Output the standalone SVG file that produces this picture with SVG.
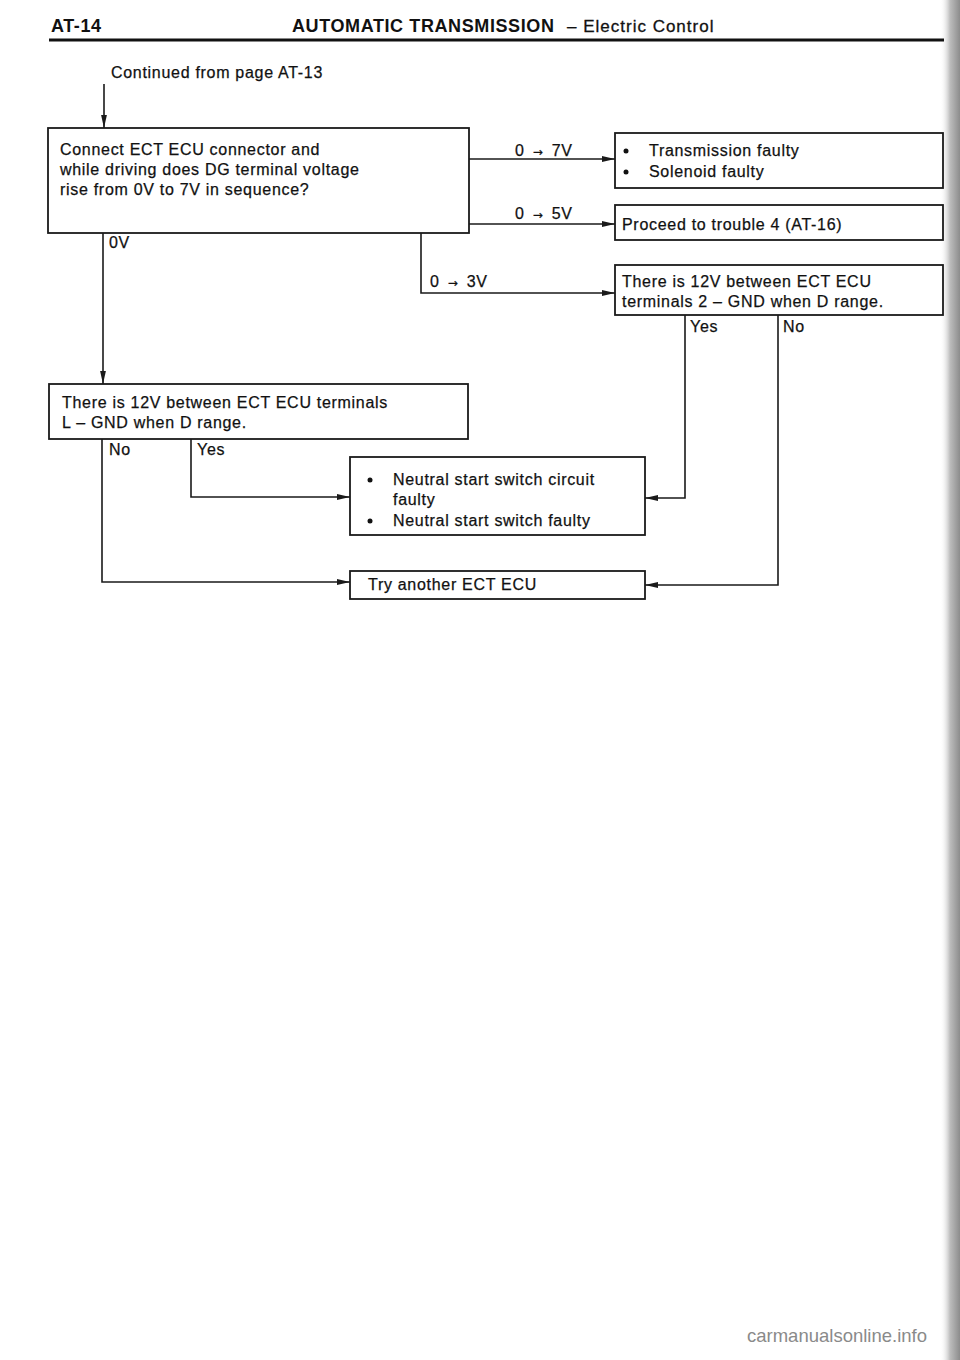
<svg xmlns="http://www.w3.org/2000/svg" width="960" height="1360" viewBox="0 0 960 1360">
<style>
  text { font-family: "Liberation Sans", Arial, sans-serif; fill: #111111; }
  .t { font-size: 16px; letter-spacing: 0.7px; stroke: #111111; stroke-width: 0.25px; }
  .lv { word-spacing: 3px; }
  .ar { font-family: "DejaVu Sans", sans-serif; font-size: 12px; }
  .hb { font-size: 18px; font-weight: bold; letter-spacing: 0.6px; }
  .hr { font-size: 17px; letter-spacing: 1px; stroke: #111111; stroke-width: 0.3px; }
  .box { fill: #ffffff; stroke: #1a1a1a; stroke-width: 1.8; }
  .ln { fill: none; stroke: #1a1a1a; stroke-width: 1.6; }
  .dot { fill: #111111; }
  .wm { font-family: "Liberation Sans", Arial, sans-serif; font-size: 18.5px; fill: #8a8a8a; }
</style>
<defs>
  <marker id="arr" viewBox="0 0 13 7" refX="13" refY="3.5" markerWidth="13" markerHeight="7" markerUnits="userSpaceOnUse" orient="auto">
    <path d="M0,0.6 L13,3.5 L0,6.4 Z" fill="#1a1a1a"/>
  </marker>
  <linearGradient id="edge" x1="0" y1="0" x2="1" y2="0">
    <stop offset="0" stop-color="#ffffff" stop-opacity="0"/>
    <stop offset="0.5" stop-color="#bdbdbd"/>
    <stop offset="1" stop-color="#8c8c8c"/>
  </linearGradient>
</defs>
<rect x="0" y="0" width="960" height="1360" fill="#ffffff"/>
<rect x="940" y="0" width="20" height="1360" fill="url(#edge)"/>

<g id="header">
  <text x="51" y="32" class="hb">AT-14</text>
  <text x="292" y="32" class="hb">AUTOMATIC TRANSMISSION</text>
  <text x="567" y="32" class="hr">– Electric Control</text>
  <line x1="49" y1="40" x2="944" y2="40" stroke="#111" stroke-width="3"/>
</g>

<g id="start">
  <text x="111" y="78" class="t">Continued from page AT-13</text>
</g>

<g id="connectors">
  <path class="ln" d="M104,84 V128" marker-end="url(#arr)"/>
  <path class="ln" d="M469,159 H615" marker-end="url(#arr)"/>
  <path class="ln" d="M469,224 H615" marker-end="url(#arr)"/>
  <path class="ln" d="M421,233 V293 H615" marker-end="url(#arr)"/>
  <path class="ln" d="M103,233 V384" marker-end="url(#arr)"/>
  <path class="ln" d="M685,315 V498 H645" marker-end="url(#arr)"/>
  <path class="ln" d="M778,315 V585 H645" marker-end="url(#arr)"/>
  <path class="ln" d="M102,439 V582 H350" marker-end="url(#arr)"/>
  <path class="ln" d="M191,439 V497 H350" marker-end="url(#arr)"/>
  <text x="515" y="156" class="t lv">0 <tspan class="ar">→</tspan> 7V</text>
  <text x="515" y="219" class="t lv">0 <tspan class="ar">→</tspan> 5V</text>
  <text x="430" y="287" class="t lv">0 <tspan class="ar">→</tspan> 3V</text>
  <text x="109" y="248" class="t">0V</text>
  <text x="690" y="332" class="t">Yes</text>
  <text x="783" y="332" class="t">No</text>
  <text x="109" y="455" class="t">No</text>
  <text x="197" y="455" class="t">Yes</text>
</g>

<g id="node-check-dg">
  <rect class="box" x="48" y="128" width="421" height="105"/>
  <text x="60" y="155" class="t">Connect ECT ECU connector and</text>
  <text x="60" y="175" class="t">while driving does DG terminal voltage</text>
  <text x="60" y="195" class="t">rise from 0V to 7V in sequence?</text>
</g>

<g id="node-trans-faulty">
  <rect class="box" x="615" y="133" width="328" height="55"/>
  <circle class="dot" cx="626" cy="151" r="2.5"/>
  <text x="649" y="156" class="t">Transmission faulty</text>
  <circle class="dot" cx="626" cy="172" r="2.5"/>
  <text x="649" y="177" class="t">Solenoid faulty</text>
</g>

<g id="node-trouble4">
  <rect class="box" x="615" y="205" width="328" height="35"/>
  <text x="622" y="230" class="t">Proceed to trouble 4 (AT-16)</text>
</g>

<g id="node-check-t2">
  <rect class="box" x="615" y="265" width="328" height="50"/>
  <text x="622" y="287" class="t">There is 12V between ECT ECU</text>
  <text x="622" y="307" class="t">terminals 2 – GND when D range.</text>
</g>

<g id="node-check-l">
  <rect class="box" x="49" y="384" width="419" height="55"/>
  <text x="62" y="408" class="t">There is 12V between ECT ECU terminals</text>
  <text x="62" y="428" class="t">L – GND when D range.</text>
</g>

<g id="node-nss">
  <rect class="box" x="350" y="457" width="295" height="78"/>
  <circle class="dot" cx="370" cy="480" r="2.5"/>
  <text x="393" y="485" class="t">Neutral start switch circuit</text>
  <text x="393" y="505" class="t">faulty</text>
  <circle class="dot" cx="370" cy="521" r="2.5"/>
  <text x="393" y="526" class="t">Neutral start switch faulty</text>
</g>

<g id="node-try-ecu">
  <rect class="box" x="350" y="571" width="295" height="28"/>
  <text x="368" y="590" class="t">Try another ECT ECU</text>
</g>

<text x="747" y="1342" class="wm">carmanualsonline.info</text>
</svg>
